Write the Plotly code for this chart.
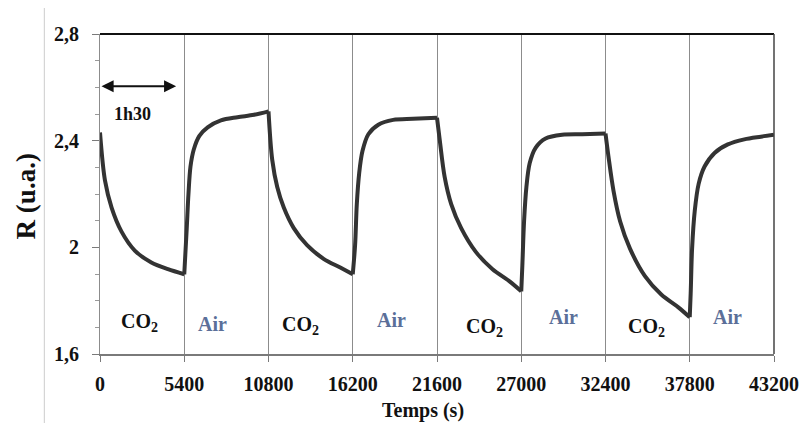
import plotly.graph_objects as go

# Time (s) and resistance R (u.a.)
time_s = [0, 318, 743, 1380, 2230, 3290, 4355, 5400,
          5560, 5670, 5800, 6010, 6370, 6900, 7750, 8810, 9870, 10800,
          11040, 11360, 11780, 12420, 13270, 14330, 15400, 16200,
          16350, 16460, 16610, 16820, 17200, 17840, 18790, 20060, 21600,
          21770, 22090, 22510, 23150, 24100, 25160, 26230, 27000,
          27070, 27180, 27330, 27540, 27920, 28560, 29620, 30900, 32400,
          32590, 32910, 33340, 33970, 34930, 35990, 37050, 37800,
          37860, 37950, 38120, 38370, 38750, 39390, 40240, 41300, 42360, 43200]
resistance = [2.431, 2.251, 2.149, 2.059, 1.988, 1.943, 1.918, 1.899,
              2.072, 2.200, 2.303, 2.367, 2.418, 2.450, 2.476, 2.488, 2.497, 2.510,
              2.328, 2.226, 2.149, 2.072, 2.008, 1.957, 1.924, 1.899,
              2.008, 2.162, 2.277, 2.360, 2.424, 2.460, 2.478, 2.482, 2.486,
              2.405, 2.264, 2.162, 2.072, 1.982, 1.918, 1.873, 1.835,
              1.931, 2.097, 2.226, 2.315, 2.373, 2.408, 2.422, 2.424, 2.427,
              2.341, 2.213, 2.097, 1.995, 1.892, 1.822, 1.776, 1.738,
              1.828, 1.995, 2.136, 2.238, 2.303, 2.354, 2.386, 2.405, 2.415, 2.422]

switch_times = [0, 5400, 10800, 16200, 21600, 27000, 32400, 37800, 43200]
y_tickvals = [1.6, 2.0, 2.4, 2.8]
y_ticktext = ["1,6", "2", "2,4", "2,8"]

gas_labels = ["CO<sub>2</sub>", "Air", "CO<sub>2</sub>", "Air",
              "CO<sub>2</sub>", "Air", "CO<sub>2</sub>", "Air"]
gas_x = [2548, 7200, 12850, 18690, 24630, 29730, 35030, 40240]
gas_y = [1.719, 1.712, 1.707, 1.727, 1.700, 1.738, 1.700, 1.738]

FONT = "Liberation Serif"

fig = go.Figure()
# one smooth trace per exposure phase, so the switching corners stay sharp
for k in range(len(switch_times) - 1):
    t0, t1 = switch_times[k], switch_times[k + 1]
    xs = [t for t in time_s if t0 <= t <= t1]
    ys = [r for t, r in zip(time_s, resistance) if t0 <= t <= t1]
    fig.add_trace(go.Scatter(x=xs, y=ys, mode="lines",
                             line=dict(color="#333333", width=4, shape="spline",
                                       smoothing=0.9),
                             showlegend=False, hoverinfo="skip"))

for lab, gx, gy in zip(gas_labels, gas_x, gas_y):
    col = "#5b6f99" if lab == "Air" else "#111111"
    fig.add_annotation(x=gx, y=gy, text="<b>" + lab + "</b>", showarrow=False,
                       font=dict(family=FONT, size=20, color=col))

# 1h30 arrow
fig.add_annotation(x=4880, y=2.604, ax=0, ay=2.604, axref="x", ayref="y",
                   xref="x", yref="y", text="", showarrow=True,
                   arrowhead=2, arrowside="end+start", arrowsize=1.1,
                   arrowwidth=2.2, arrowcolor="#111111")
fig.add_annotation(x=2100, y=2.500, text="<b>1h30</b>", showarrow=False,
                   font=dict(family=FONT, size=18, color="#111111"))

# axis titles
fig.add_annotation(x=0.479, y=-0.218, xref="paper", yref="paper",
                   xanchor="center", yanchor="bottom",
                   text="<b>Temps (s)</b>", showarrow=False,
                   font=dict(family=FONT, size=20, color="#111111"))
fig.add_annotation(x=-0.1106, y=0.494, xref="paper", yref="paper",
                   xanchor="center", yanchor="middle",
                   text="<b>R (u.a.)</b>", showarrow=False, textangle=-90,
                   font=dict(family=FONT, size=27, color="#111111"))

# borders
fig.add_shape(type="line", xref="paper", yref="paper", x0=0, x1=1, y0=1, y1=1,
              line=dict(color="#111111", width=2))
fig.add_shape(type="line", xref="paper", yref="paper", x0=1, x1=1, y0=0, y1=1,
              line=dict(color="#444444", width=1.5))
fig.add_shape(type="line", xref="paper", yref="paper", x0=-0.0826, x1=-0.0826,
              y0=-0.24, y1=1.083, line=dict(color="#cccccc", width=1))

fig.update_xaxes(range=[0, 43200], tickvals=switch_times,
                 ticktext=[str(v) for v in switch_times],
                 showgrid=True, gridcolor="#8c8c8c", gridwidth=1,
                 showline=True, linecolor="#7a7a7a", linewidth=1.5,
                 ticks="outside", ticklen=6, tickcolor="#7a7a7a",
                 ticklabelstandoff=5, zeroline=False,
                 tickfont=dict(family=FONT, size=20, color="#111111", weight="bold"))
fig.update_yaxes(range=[1.6, 2.8], tickvals=y_tickvals, ticktext=y_ticktext,
                 showgrid=False, showline=True, linecolor="#8c8c8c", linewidth=1,
                 ticks="outside", ticklen=7, tickcolor="#7a7a7a",
                 minor=dict(dtick=0.1, ticks="outside", ticklen=4, tickcolor="#9a9a9a"),
                 ticklabelstandoff=9, zeroline=False,
                 tickfont=dict(family=FONT, size=20, color="#111111", weight="bold"))

# the page adds an 8px body margin, so the figure is shifted up/left by 8px
fig.update_layout(width=803, height=415,
                  margin=dict(l=92, r=33, t=26, b=69),
                  plot_bgcolor="white", paper_bgcolor="white")

fig.write_html("out.html")
